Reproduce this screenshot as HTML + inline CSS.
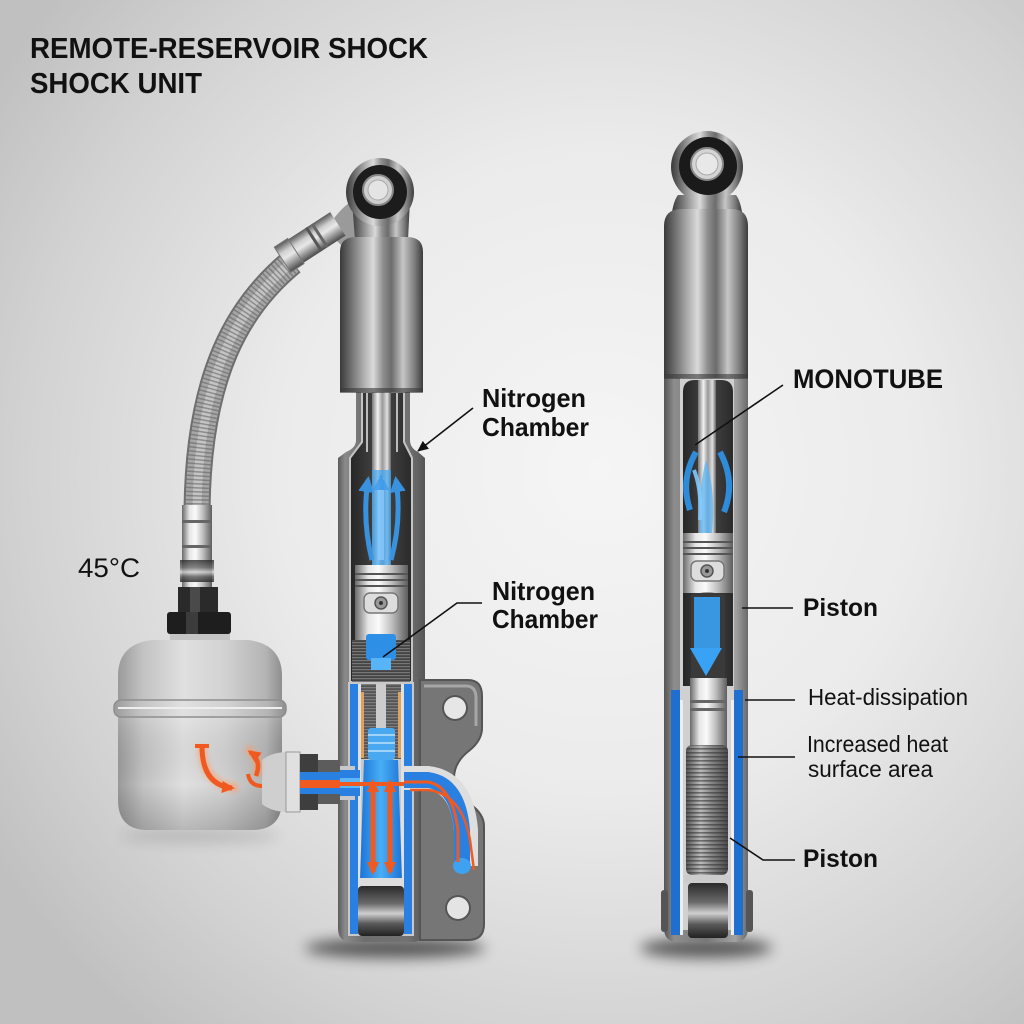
<!DOCTYPE html>
<html><head><meta charset="utf-8">
<style>
html,body{margin:0;padding:0;width:1024px;height:1024px;overflow:hidden;background:#e4e4e4;}
svg{display:block;}
text{font-family:"Liberation Sans",Arial,sans-serif;fill:#111;}
</style></head><body>
<svg width="1024" height="1024" viewBox="0 0 1024 1024" xmlns="http://www.w3.org/2000/svg">
<defs>
<radialGradient id="bg" cx="600" cy="470" r="720" gradientUnits="userSpaceOnUse">
<stop offset="0" stop-color="#f5f5f5"/>
<stop offset="0.45" stop-color="#ebebeb"/>
<stop offset="0.8" stop-color="#d2d2d2"/>
<stop offset="1" stop-color="#c0c0c0"/>
</radialGradient>
<linearGradient id="cyl" x1="0" x2="1" y1="0" y2="0">
<stop offset="0" stop-color="#3a3a3a"/>
<stop offset="0.12" stop-color="#6a6a6a"/>
<stop offset="0.3" stop-color="#b4b4b4"/>
<stop offset="0.4" stop-color="#dadada"/>
<stop offset="0.52" stop-color="#8e8e8e"/>
<stop offset="0.62" stop-color="#6c6c6c"/>
<stop offset="0.76" stop-color="#c6c6c6"/>
<stop offset="0.9" stop-color="#7c7c7c"/>
<stop offset="1" stop-color="#3c3c3c"/>
</linearGradient>
<linearGradient id="cylV" x1="0" x2="0" y1="0" y2="1">
<stop offset="0" stop-color="#5a5a5a"/>
<stop offset="0.3" stop-color="#cfcfcf"/>
<stop offset="0.5" stop-color="#e8e8e8"/>
<stop offset="0.75" stop-color="#9a9a9a"/>
<stop offset="1" stop-color="#4a4a4a"/>
</linearGradient>
<linearGradient id="body" x1="0" x2="1" y1="0" y2="0">
<stop offset="0" stop-color="#5c5c5c"/>
<stop offset="0.08" stop-color="#8a8a8a"/>
<stop offset="0.3" stop-color="#6e6e6e"/>
<stop offset="0.8" stop-color="#727272"/>
<stop offset="1" stop-color="#565656"/>
</linearGradient>
<linearGradient id="bodyR" x1="0" x2="1" y1="0" y2="0">
<stop offset="0" stop-color="#555"/>
<stop offset="0.12" stop-color="#8d8d8d"/>
<stop offset="0.5" stop-color="#777"/>
<stop offset="0.85" stop-color="#a2a2a2"/>
<stop offset="1" stop-color="#6a6a6a"/>
</linearGradient>
<linearGradient id="dark" x1="0" x2="1" y1="0" y2="0">
<stop offset="0" stop-color="#262626"/>
<stop offset="0.5" stop-color="#474747"/>
<stop offset="1" stop-color="#2a2a2a"/>
</linearGradient>
<linearGradient id="rod" x1="0" x2="1" y1="0" y2="0">
<stop offset="0" stop-color="#777"/>
<stop offset="0.3" stop-color="#f2f2f2"/>
<stop offset="0.55" stop-color="#999"/>
<stop offset="0.8" stop-color="#e0e0e0"/>
<stop offset="1" stop-color="#666"/>
</linearGradient>
<linearGradient id="piston" x1="0" x2="1" y1="0" y2="0">
<stop offset="0" stop-color="#6a6a6a"/>
<stop offset="0.25" stop-color="#e6e6e6"/>
<stop offset="0.45" stop-color="#fafafa"/>
<stop offset="0.7" stop-color="#bdbdbd"/>
<stop offset="1" stop-color="#5e5e5e"/>
</linearGradient>
<linearGradient id="res" x1="0" x2="1" y1="0" y2="0">
<stop offset="0" stop-color="#9a9a9a"/>
<stop offset="0.15" stop-color="#c2c2c2"/>
<stop offset="0.4" stop-color="#e0e0e0"/>
<stop offset="0.65" stop-color="#d2d2d2"/>
<stop offset="0.9" stop-color="#b4b4b4"/>
<stop offset="1" stop-color="#8e8e8e"/>
</linearGradient>
<linearGradient id="resShade" x1="0" x2="0" y1="0" y2="1">
<stop offset="0" stop-color="#fff" stop-opacity="0.15"/>
<stop offset="0.6" stop-color="#000" stop-opacity="0"/>
<stop offset="1" stop-color="#000" stop-opacity="0.18"/>
</linearGradient>
<linearGradient id="roller" x1="0" x2="0" y1="0" y2="1">
<stop offset="0" stop-color="#2a2a2a"/>
<stop offset="0.35" stop-color="#6a6a6a"/>
<stop offset="0.55" stop-color="#cfcfcf"/>
<stop offset="0.75" stop-color="#5a5a5a"/>
<stop offset="1" stop-color="#222"/>
</linearGradient>
<linearGradient id="blue" x1="0" x2="1" y1="0" y2="0">
<stop offset="0" stop-color="#1c74d6"/>
<stop offset="0.5" stop-color="#49aef5"/>
<stop offset="1" stop-color="#1c74d6"/>
</linearGradient>
<linearGradient id="spring" x1="0" x2="1" y1="0" y2="0">
<stop offset="0" stop-color="#555"/>
<stop offset="0.35" stop-color="#bbb"/>
<stop offset="0.6" stop-color="#888"/>
<stop offset="1" stop-color="#4a4a4a"/>
</linearGradient>
<pattern id="ribs" width="6" height="4" patternUnits="userSpaceOnUse">
<rect y="0" width="6" height="1.6" fill="#2e2e2e" opacity="0.55"/>
</pattern>
<pattern id="threads" width="4" height="3" patternUnits="userSpaceOnUse">
<rect y="0" width="4" height="1.2" fill="#9a9a9a" opacity="0.6"/>
</pattern>
<filter id="blur" x="-50%" y="-200%" width="200%" height="500%"><feGaussianBlur stdDeviation="7"/></filter>
<filter id="glow" x="-30%" y="-30%" width="160%" height="160%"><feGaussianBlur stdDeviation="2.5"/></filter>
<marker id="ah" markerWidth="12" markerHeight="10" refX="10" refY="5" orient="auto" markerUnits="userSpaceOnUse">
<path d="M0,0 L11,5 L0,10 Z" fill="#111"/>
</marker>
<marker id="oh" markerWidth="14" markerHeight="12" refX="10" refY="6" orient="auto" markerUnits="userSpaceOnUse">
<path d="M0,0 L13,6 L0,12 Z" fill="#f05a20"/>
</marker>
<marker id="bh" markerWidth="18" markerHeight="16" refX="12" refY="8" orient="auto" markerUnits="userSpaceOnUse">
<path d="M0,0 L16,8 L0,16 Z" fill="#3a9cf0"/>
</marker>
</defs>

<rect width="1024" height="1024" fill="url(#bg)"/>

<!-- shadows -->
<ellipse cx="395" cy="948" rx="90" ry="10" fill="#000" opacity="0.6" filter="url(#blur)"/>
<ellipse cx="706" cy="948" rx="66" ry="10" fill="#000" opacity="0.6" filter="url(#blur)"/>
<ellipse cx="200" cy="836" rx="80" ry="6" fill="#000" opacity="0.15" filter="url(#blur)"/>

<!-- Title -->
<text x="30" y="58" font-size="29" font-weight="bold" textLength="398" lengthAdjust="spacingAndGlyphs">REMOTE-RESERVOIR SHOCK</text>
<text x="30" y="93" font-size="29" font-weight="bold" textLength="172" lengthAdjust="spacingAndGlyphs">SHOCK UNIT</text>

<!-- ========== LEFT SHOCK ========== -->
<!-- hose -->
<path d="M292,262 C240,305 198,372 197,512" fill="none" stroke="#6e6e6e" stroke-width="27"/>
<path d="M292,262 C240,305 198,372 197,512" fill="none" stroke="#a6a6a6" stroke-width="23"/>
<path d="M292,262 C240,305 198,372 197,512" fill="none" stroke="#c4c4c4" stroke-width="9"/>
<path d="M292,262 C240,305 198,372 197,512" fill="none" stroke="#555" stroke-width="23" stroke-dasharray="1.5 2.5" opacity="0.5"/>
<!-- hose top fitting -->
<path d="M326,230 Q342,204 358,198 L374,222 Q356,232 348,252 Z" fill="#9a9a9a"/>
<g transform="translate(316,238) rotate(-33)">
<rect x="-40" y="-14" width="66" height="28" fill="url(#cylV)"/>
<rect x="-40" y="-15" width="16" height="30" fill="url(#cylV)" stroke="#777" stroke-width="1"/>
<rect x="-4" y="-14" width="3" height="28" fill="#555"/>
<rect x="3" y="-14" width="3" height="28" fill="#666"/>
</g>

<!-- eye -->
<path d="M352,200 H410 L408,240 H355 Z" fill="url(#cyl)"/>
<circle cx="380" cy="192" r="34" fill="url(#cyl)"/>
<circle cx="380" cy="192" r="27" fill="#1c1c1c"/>
<circle cx="378" cy="190" r="15" fill="#cfcfcf" stroke="#888" stroke-width="2"/>
<circle cx="378" cy="190" r="10" fill="#e4e4e4" stroke="#aaa" stroke-width="1"/>

<!-- lower body -->
<path d="M356,392 H410 V440 Q410,448 418,452 L425,458 V928 Q425,942 412,942 H351 Q338,942 338,928 V458 L346,452 Q356,448 356,440 Z" fill="url(#body)"/>
<!-- bracket -->
<path d="M420,680 H468 Q482,680 482,696 V728 Q482,740 470,750 Q454,762 454,778 Q454,794 470,804 Q484,814 484,826 V924 Q484,940 468,940 H420 Z" fill="#767676" stroke="#555" stroke-width="2"/>
<path d="M424,686 H466 Q476,686 476,698 V726" fill="none" stroke="#a6a6a6" stroke-width="3"/>
<circle cx="455" cy="708" r="13" fill="#555"/>
<circle cx="455" cy="708" r="11" fill="#e6e6e6"/>
<circle cx="458" cy="908" r="13" fill="#555"/>
<circle cx="458" cy="908" r="11" fill="#e4e4e4"/>

<!-- upper cutaway interior -->
<path d="M362,392 H404 V442 L412,458 V682 H350 V458 L362,442 Z" fill="url(#dark)" stroke="#c4c4c4" stroke-width="2"/>
<rect x="372" y="392" width="19" height="175" fill="url(#rod)"/>
<rect x="366" y="392" width="2" height="60" fill="#bbb"/>
<rect x="396" y="392" width="2" height="60" fill="#bbb"/>
<!-- blue flow upper -->
<g opacity="0.9">
<rect x="372" y="470" width="19" height="95" fill="#3aa4f4" opacity="0.75"/>
<path d="M372,560 Q362,520 368,480" fill="none" stroke="#3a9cf0" stroke-width="5" marker-end="url(#bh)"/>
<path d="M391,560 Q402,520 396,480" fill="none" stroke="#3a9cf0" stroke-width="5" marker-end="url(#bh)"/>
<path d="M381,560 L381,478" fill="none" stroke="#7cc6ff" stroke-width="6" marker-end="url(#bh)"/>
</g>
<!-- piston -->
<rect x="355" y="565" width="53" height="75" fill="url(#piston)"/>
<rect x="355" y="573" width="53" height="2" fill="#555"/>
<rect x="355" y="579" width="53" height="2" fill="#555"/>
<rect x="355" y="585" width="53" height="2" fill="#555"/>
<rect x="364" y="593" width="34" height="20" rx="6" fill="#ddd" stroke="#777" stroke-width="1.5"/>
<circle cx="381" cy="603" r="6" fill="#999" stroke="#555" stroke-width="1.5"/>
<circle cx="381" cy="603" r="2" fill="#333"/>
<!-- below piston -->
<rect x="352" y="640" width="58" height="44" fill="#444"/>
<rect x="352" y="640" width="58" height="44" fill="url(#threads)"/>
<rect x="366" y="634" width="30" height="26" rx="3" fill="#2e8fe6"/>
<rect x="371" y="658" width="20" height="12" fill="#56b4f7"/>

<!-- lower cutaway -->
<path d="M348,682 H414 V936 H348 Z" fill="#c8c8c8"/>
<rect x="350" y="684" width="8" height="250" fill="#2a80e0"/>
<rect x="404" y="684" width="8" height="250" fill="#2a80e0"/>
<rect x="358" y="684" width="3" height="250" fill="#e0e0e0"/>
<rect x="401" y="684" width="3" height="250" fill="#e0e0e0"/>
<rect x="361" y="684" width="40" height="75" fill="#555"/>
<rect x="361" y="684" width="40" height="75" fill="url(#threads)"/>
<rect x="361" y="692" width="3" height="66" fill="#e0a060"/>
<rect x="398" y="692" width="3" height="66" fill="#e0a060"/>
<rect x="376" y="684" width="10" height="50" fill="#ccc"/>
<rect x="368" y="728" width="27" height="32" rx="3" fill="#4aa8f0"/>
<rect x="368" y="734" width="27" height="2" fill="#9fd3fa"/>
<rect x="368" y="742" width="27" height="2" fill="#9fd3fa"/>
<rect x="368" y="750" width="27" height="2" fill="#9fd3fa"/>
<path d="M364,760 H398 L402,880 H360 Z" fill="url(#blue)"/>

<!-- horizontal channel -->
<rect x="300" y="766" width="55" height="34" fill="#c8c8c8"/>
<rect x="300" y="770" width="60" height="26" fill="#2a80e0"/>
<rect x="300" y="778" width="60" height="10" fill="#5cb6f8"/>
<!-- right channel into bracket -->
<path d="M404,778 H428 Q462,782 466,830 V866" fill="none" stroke="#dedede" stroke-width="24"/>
<path d="M404,780 H428 Q458,784 462,830 V866" fill="none" stroke="#2a80e0" stroke-width="16"/>
<ellipse cx="462" cy="866" rx="9" ry="8" fill="#3ea2f0"/>
<path d="M404,782 H428 Q452,786 458,830 V862" fill="none" stroke="#f05a20" stroke-width="3"/>
<path d="M410,790 H428 Q462,794 470,840 L474,870" fill="none" stroke="#f05a20" stroke-width="2.5"/>

<!-- orange arrows -->
<g filter="url(#glow)" opacity="0.6">
<path d="M258,784 H404" stroke="#ff8a50" stroke-width="8" fill="none"/>
</g>
<path d="M256,784 H404" stroke="#f05a20" stroke-width="4" fill="none"/>
<path d="M373,860 V782" stroke="#f05a20" stroke-width="5" fill="none" marker-end="url(#oh)"/>
<path d="M373,800 V872" stroke="#f05a20" stroke-width="5" fill="none" marker-end="url(#oh)"/>
<path d="M390,860 V782" stroke="#f05a20" stroke-width="5" fill="none" marker-end="url(#oh)"/>
<path d="M390,800 V872" stroke="#f05a20" stroke-width="5" fill="none" marker-end="url(#oh)"/>

<!-- roller bottom -->
<rect x="358" y="878" width="46" height="8" fill="#ddd"/>
<rect x="358" y="886" width="46" height="50" rx="4" fill="url(#roller)"/>

<!-- top cylinder -->
<path d="M340,392 V252 Q340,237 356,237 H407 Q423,237 423,252 V392 Z" fill="url(#cyl)"/>
<rect x="340" y="388" width="83" height="5" fill="#3a3a3a" opacity="0.6"/>

<!-- reservoir -->
<rect x="170" y="630" width="60" height="16" fill="#c4c4c4"/>
<path d="M118,700 V676 Q118,644 152,640 H248 Q282,644 282,676 V700 Z" fill="url(#res)"/>
<path d="M118,716 V800 Q118,830 148,830 H252 Q282,830 282,800 V716 Z" fill="url(#res)"/>
<path d="M118,716 V800 Q118,830 148,830 H252 Q282,830 282,800 V716 Z" fill="url(#resShade)"/>
<rect x="114" y="700" width="172" height="17" rx="7" fill="url(#res)" stroke="#8e8e8e" stroke-width="1.5"/>
<line x1="118" y1="708" x2="282" y2="708" stroke="#eeeeee" stroke-width="2"/>
<!-- port -->
<path d="M262,760 Q272,752 288,752 H300 V812 H288 Q272,812 262,804 Z" fill="#cfcfcf"/>
<rect x="286" y="752" width="14" height="60" fill="#e0e0e0" stroke="#999" stroke-width="1"/>
<rect x="300" y="754" width="18" height="56" fill="#3e3e3e"/>
<rect x="318" y="760" width="22" height="44" fill="#5c5c5c"/>
<rect x="300" y="772" width="40" height="22" fill="#2a80e0"/>
<rect x="300" y="780" width="40" height="8" fill="#f05a20"/>
<!-- nuts/fitting -->
<rect x="182" y="505" width="30" height="82" fill="url(#piston)"/>
<rect x="182" y="520" width="30" height="3" fill="#666"/>
<rect x="182" y="545" width="30" height="3" fill="#666"/>
<rect x="180" y="560" width="34" height="22" fill="url(#roller)" opacity="0.8"/>
<rect x="178" y="587" width="40" height="26" fill="#2a2a2a"/>
<rect x="190" y="587" width="10" height="26" fill="#4a4a4a"/>
<rect x="167" y="612" width="64" height="22" rx="3" fill="#1e1e1e"/>
<rect x="186" y="612" width="12" height="22" fill="#3c3c3c"/>

<!-- reservoir orange arrows -->
<g filter="url(#glow)" opacity="0.55">
<path d="M202,746 Q202,785 238,788" stroke="#ff9a60" stroke-width="9" fill="none"/>
<path d="M256,776 Q262,758 246,748" stroke="#ff9a60" stroke-width="8" fill="none"/>
</g>
<path d="M202,746 Q202,785 232,788" stroke="#f05a20" stroke-width="5" fill="none" marker-end="url(#oh)"/>
<path d="M195,746 H209" stroke="#f05a20" stroke-width="4"/>
<path d="M256,776 Q262,760 250,752" stroke="#f05a20" stroke-width="4.5" fill="none" marker-end="url(#oh)"/>
<path d="M248,774 Q250,786 262,786" stroke="#f05a20" stroke-width="4" fill="none"/>

<!-- 45C -->
<text x="78" y="577" font-size="27" textLength="62" lengthAdjust="spacingAndGlyphs">45°C</text>

<!-- Left labels -->
<text x="482" y="407" font-size="26" font-weight="bold" textLength="104" lengthAdjust="spacingAndGlyphs">Nitrogen</text>
<text x="482" y="436" font-size="26" font-weight="bold" textLength="107" lengthAdjust="spacingAndGlyphs">Chamber</text>
<line x1="473" y1="408" x2="418" y2="451" stroke="#111" stroke-width="1.6" marker-end="url(#ah)"/>
<text x="492" y="600" font-size="26" font-weight="bold" textLength="103" lengthAdjust="spacingAndGlyphs">Nitrogen</text>
<text x="492" y="628" font-size="26" font-weight="bold" textLength="106" lengthAdjust="spacingAndGlyphs">Chamber</text>
<polyline points="482,603 457,603 383,657" fill="none" stroke="#111" stroke-width="1.6"/>

<!-- ========== RIGHT SHOCK ========== -->
<path d="M664,378 H748 V928 Q748,942 734,942 H678 Q664,942 664,928 Z" fill="url(#bodyR)"/>
<path d="M680,378 H734 V930 H680 Z" fill="#d0d0d0"/>
<path d="M683,392 Q683,380 695,380 H721 Q733,380 733,392 V686 H683 Z" fill="url(#dark)"/>
<rect x="698" y="380" width="18" height="160" fill="url(#rod)"/>
<g opacity="0.9">
<path d="M696,452 Q680,480 690,510" fill="none" stroke="#2f96ec" stroke-width="6"/>
<path d="M720,452 Q736,482 724,512" fill="none" stroke="#2f96ec" stroke-width="6"/>
<path d="M700,535 Q698,490 706,460 Q716,490 712,535" fill="#55b4f8" opacity="0.8"/>
<path d="M694,470 Q702,490 700,520" fill="none" stroke="#7fcaff" stroke-width="4"/>
</g>
<rect x="683" y="533" width="50" height="60" fill="url(#piston)"/>
<rect x="683" y="541" width="50" height="2" fill="#555"/>
<rect x="683" y="547" width="50" height="2" fill="#555"/>
<rect x="683" y="553" width="50" height="2" fill="#555"/>
<rect x="691" y="561" width="33" height="20" rx="6" fill="#ddd" stroke="#777" stroke-width="1.5"/>
<circle cx="707" cy="571" r="6" fill="#999" stroke="#555" stroke-width="1.5"/>
<circle cx="707" cy="571" r="2" fill="#333"/>
<path d="M691,595 Q707,590 725,595 V680 H691 Z" fill="#3a3a3a"/>
<rect x="694" y="597" width="26" height="52" fill="#3aa2f4" opacity="0.9"/>
<path d="M690,648 H722 L706,676 Z" fill="#3aa2f4"/>
<rect x="671" y="690" width="9" height="245" fill="#1f6fd0"/>
<rect x="734" y="690" width="9" height="245" fill="#1f6fd0"/>
<rect x="680" y="700" width="3" height="235" fill="#eee"/>
<rect x="731" y="700" width="3" height="235" fill="#eee"/>
<rect x="690" y="678" width="37" height="70" fill="url(#piston)"/>
<rect x="690" y="700" width="37" height="3" fill="#666"/>
<rect x="690" y="708" width="37" height="3" fill="#666"/>
<rect x="686" y="745" width="42" height="130" rx="6" fill="url(#spring)"/>
<rect x="686" y="745" width="42" height="130" rx="6" fill="url(#ribs)"/>
<rect x="684" y="875" width="46" height="8" fill="#ccc"/>
<rect x="688" y="883" width="40" height="55" rx="4" fill="url(#roller)"/>
<rect x="661" y="890" width="7" height="42" rx="3" fill="#555"/>
<rect x="746" y="890" width="7" height="42" rx="3" fill="#555"/>

<path d="M678,215 H736 L742,212 Q740,200 736,195 L678,195 Q674,200 672,212 Z" fill="url(#cyl)"/>
<circle cx="707" cy="167" r="36" fill="url(#cyl)"/>
<circle cx="708" cy="166" r="29" fill="#1a1a1a"/>
<circle cx="707" cy="164" r="16" fill="#d4d4d4" stroke="#888" stroke-width="2"/>
<circle cx="707" cy="164" r="11" fill="#e8e8e8" stroke="#aaa" stroke-width="1"/>
<path d="M664,378 V226 Q664,209 682,209 H731 Q748,209 748,226 V378 Z" fill="url(#cyl)"/>
<rect x="664" y="374" width="84" height="5" fill="#3a3a3a" opacity="0.6"/>

<!-- Right labels -->
<text x="793" y="388" font-size="27" font-weight="bold" textLength="150" lengthAdjust="spacingAndGlyphs">MONOTUBE</text>
<line x1="783" y1="385" x2="695" y2="445" stroke="#111" stroke-width="1.6"/>
<text x="803" y="616" font-size="25" font-weight="bold" textLength="75" lengthAdjust="spacingAndGlyphs">Piston</text>
<line x1="742" y1="608" x2="793" y2="608" stroke="#111" stroke-width="1.6"/>
<text x="808" y="705" font-size="23" textLength="160" lengthAdjust="spacingAndGlyphs">Heat-dissipation</text>
<line x1="745" y1="700" x2="795" y2="700" stroke="#111" stroke-width="1.6"/>
<text x="807" y="752" font-size="23" textLength="141" lengthAdjust="spacingAndGlyphs">Increased heat</text>
<text x="808" y="777" font-size="23" textLength="125" lengthAdjust="spacingAndGlyphs">surface area</text>
<line x1="738" y1="757" x2="795" y2="757" stroke="#111" stroke-width="1.6"/>
<text x="803" y="867" font-size="25" font-weight="bold" textLength="75" lengthAdjust="spacingAndGlyphs">Piston</text>
<polyline points="795,860 763,860 730,838" fill="none" stroke="#111" stroke-width="1.6"/>
</svg>
</body></html>
